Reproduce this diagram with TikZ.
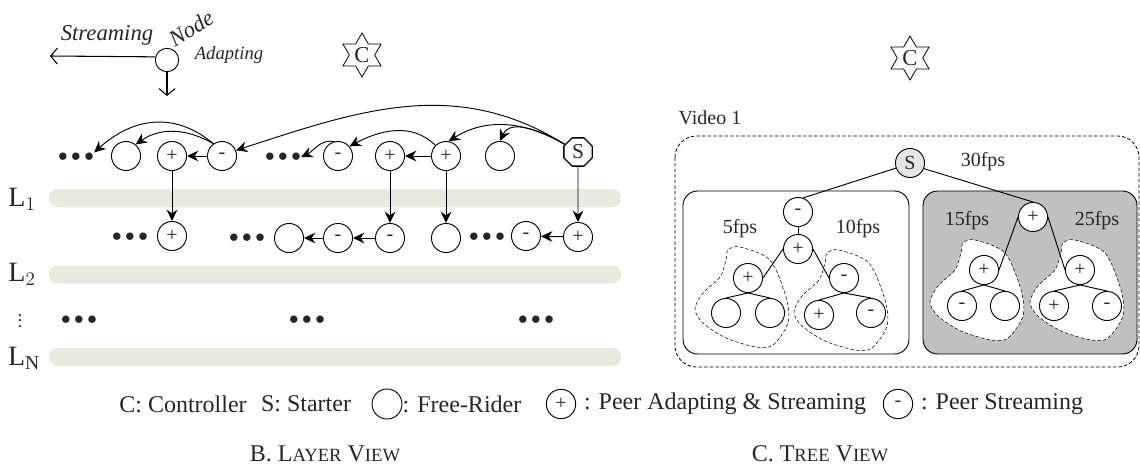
\documentclass[tikz,border=0pt]{standalone}
\usepackage{fontspec}
\setmainfont{Liberation Serif}
\usetikzlibrary{shapes.geometric, arrows.meta}
\newcommand{\sized}[1]{\fontsize{#1}{#1}\selectfont}
\newcommand{\threedots}{$\bullet$\hspace{2.6pt}$\bullet$\hspace{2.6pt}$\bullet$}
\newcommand{\blob}[1]{\draw[dashed, dash pattern=on 2.6pt off 1.6pt, fill=white, shift={#1}] plot[smooth cycle] coordinates {(0,0) (12,-3) (42,10) (58,47) (60,73) (45,95) (28,97) (-2,88) (-25,73) (-33,59) (-25,43) (-8,27) (-2,10)};}
\tikzset{
    every node/.style={inner sep=0pt, text=black!85},
    peer/.style={circle, draw, fill=white, minimum size=21.8pt, line width=0.7pt, font=\sized{15}},
    starter/.style={regular polygon, regular polygon sides=8, draw, fill=white, minimum size=23pt, line width=1pt, font=\sized{16}},
    controller/.style={star, star points=6, star point ratio=1.73, draw, minimum size=33pt, line width=0.6pt, font=\sized{17}},
    layerbar/.style={rectangle, fill=layergray, rounded corners=6.7pt, minimum width=429.5pt, minimum height=13.5pt},
    layername/.style={font=\sized{21}},
    dotsrow/.style={font=\sized{14}},
    note/.style={font=\sized{15}},
    legendtxt/.style={font=\sized{18}},
    treebox/.style={draw, rounded corners=11pt, line width=0.7pt},
    flow/.style={-{Stealth[length=8.5pt, width=8pt]}, line width=0.7pt},
    openflow/.style={-{Straight Barb[length=5pt, width=12pt]}, line width=0.8pt},
    link/.style={line width=0.7pt}
}
\definecolor{layergray}{HTML}{E9EADF}
\definecolor{boxgray}{HTML}{C0C0C0}
\begin{document}
\begin{tikzpicture}[x=0.75pt, y=-0.75pt]
    \useasboundingbox (0,0) rectangle (1140,467);

    % layer view
    \node[layerbar] (b1) at (335,198) {};
    \node[layerbar] (b2) at (335,274.5) {};
    \node[layerbar] (b3) at (335,357) {};
    \node[layername] (l1) at (22,199) {L$_1$};
    \node[layername] (l2) at (22,274) {L$_2$};
    \node[layername] (l3) at (24,358) {L\textsubscript{N}};
    \node[font=\sized{14}, align=center] (vd) at (20,317) {$\vdots$};

    \node[peer, minimum size=17.5pt] (k) at (167,60) {};
    \coordinate (kl) at (50,56);
    \coordinate (kd) at (167,96);
    \node[font=\itshape\sized{17}] (ks) at (107,35) {Streaming};
    \node[font=\itshape\sized{17}, rotate=32] (kn) at (191,28) {Node};
    \node[font=\itshape\sized{14}] (ka) at (229,55) {Adapting};
    \node[controller] (c1) at (362,55) {C};
    \node[controller] (c2) at (910,58) {C};
    \path[openflow]
    (k.165) edge (kl)
    (k.south) edge (kd);

    \node[dotsrow] (d1) at (76,157) {\threedots};
    \node[peer] (n1) at (126,156) {};
    \node[peer] (n2) at (172,156) {+};
    \node[peer] (n3) at (222,156) {-};
    \node[dotsrow] (d2) at (283,157) {\threedots};
    \node[peer] (n4) at (338,156) {-};
    \node[peer] (n5) at (390,156) {+};
    \node[peer] (n6) at (446,156) {+};
    \node[peer] (n7) at (500,156) {};
    \node[starter] (n8) at (578,152) {S};

    \node[dotsrow] (d3) at (130,237) {\threedots};
    \node[peer] (r1) at (172,236) {+};
    \node[dotsrow] (d4) at (247,238) {\threedots};
    \node[peer] (r2) at (289,238) {};
    \node[peer] (r3) at (338,238) {-};
    \node[peer] (r4) at (390,238) {-};
    \node[peer] (r5) at (446,238) {};
    \node[dotsrow] (d5) at (487,237) {\threedots};
    \node[peer] (r6) at (526,236) {-};
    \node[peer] (r7) at (578,237) {+};

    \node[dotsrow] (d6) at (79,320) {\threedots};
    \node[dotsrow] (d7) at (307,320) {\threedots};
    \node[dotsrow] (d8) at (536,320) {\threedots};

    \path[flow]
    (n3) edge (n2)
    (n6) edge (n5)
    (n2) edge (r1)
    (n5) edge (r4)
    (n6) edge (r5)
    (n8) edge (r7)
    (r4) edge (r3)
    (r3) edge (r2)
    (r7) edge (r6)
    (n3.125) edge[out=140, in=42, looseness=1.1] (d1.north east)
    (n3.125) edge[out=150, in=35, looseness=1] (n1.50)
    (n8.150) edge[out=148, in=18, looseness=1] (n3.22)
    (n8.150) edge[out=150, in=32, looseness=1] (n6.80)
    (n8.150) edge[out=150, in=65, looseness=1] (n7.90)
    (n6.135) edge[out=135, in=28, looseness=1] (n4.40)
    (n4.105) edge[out=170, in=25, looseness=1] (d2.east);

    % tree view
    \node[note] (v) at (710,118) {Video 1};
    \draw[dashed, dash pattern=on 2.6pt off 1.6pt, rounded corners=16pt, line width=0.6pt] (675,136) rectangle (1139,367);
    \draw[treebox] (683,191) rectangle (909,354);
    \draw[treebox, fill=boxgray] (923,191) rectangle (1137,354);
    \blob{(728,250)}
    \blob{(827,253)}
    \blob{(963,243)}
    \blob{(1063,243)}

    \node[peer, fill=black!10] (s) at (910,163) {S};
    \node[peer] (t1) at (798,212) {-};
    \node[peer] (t2) at (798,249) {+};
    \node[peer] (t3) at (748,278) {+};
    \node[peer] (t4) at (726,313) {};
    \node[peer] (t5) at (770,313) {};
    \node[peer] (t6) at (844,278) {-};
    \node[peer] (t7) at (819,315) {+};
    \node[peer] (t8) at (871,313) {-};

    \node[peer] (u1) at (1033,217) {+};
    \node[peer] (u2) at (984,270) {+};
    \node[peer] (u3) at (962,306) {-};
    \node[peer] (u4) at (1005,306) {};
    \node[peer] (u5) at (1080,270) {+};
    \node[peer] (u6) at (1054,306) {+};
    \node[peer] (u7) at (1107,306) {-};

    \node[note] (f1) at (740,229) {5fps};
    \node[note] (f2) at (858,229) {10fps};
    \node[note] (f3) at (967,221) {15fps};
    \node[note] (f4) at (1097,221) {25fps};
    \node[note] (f5) at (983,162) {30fps};

    \path[link]
    (s.200) edge (t1.70)
    (s.-22) edge (u1.90)
    (t1) edge (t2)
    (t2.180) edge (t3.0)
    (t2.0) edge (t6.180)
    (t3.south) edge (t4.north)
    (t3.south) edge (t5.north)
    (t6.south) edge (t7.north)
    (t6.south) edge (t8.north)
    (u1.180) edge (u2.0)
    (u1.0) edge (u5.180)
    (u2.south) edge (u3.north)
    (u2.south) edge (u4.north)
    (u5.south) edge (u6.north)
    (u5.south) edge (u7.north);

    % legend
    \node[legendtxt] (e1) at (183,404) {C: Controller};
    \node[legendtxt] (e2) at (306,404) {S: Starter};
    \node[peer, minimum size=22.5pt] (e3) at (387,404) {};
    \node[legendtxt] (e4) at (462,404) {: Free-Rider};
    \node[peer, minimum size=22pt] (e5) at (561,404) {+};
    \node[legendtxt] (e6) at (725,404) {: Peer Adapting \& Streaming};
    \node[peer, minimum size=22pt] (e7) at (898,404) {-};
    \node[legendtxt] (e8) at (1002,404) {: Peer Streaming};
    \node[legendtxt] (cb) at (325,454) {B. L{\sized{14}AYER} V{\sized{14}IEW}};
    \node[legendtxt] (cc) at (820,454) {C. T{\sized{14}REE} V{\sized{14}IEW}};
\end{tikzpicture}
\end{document}
